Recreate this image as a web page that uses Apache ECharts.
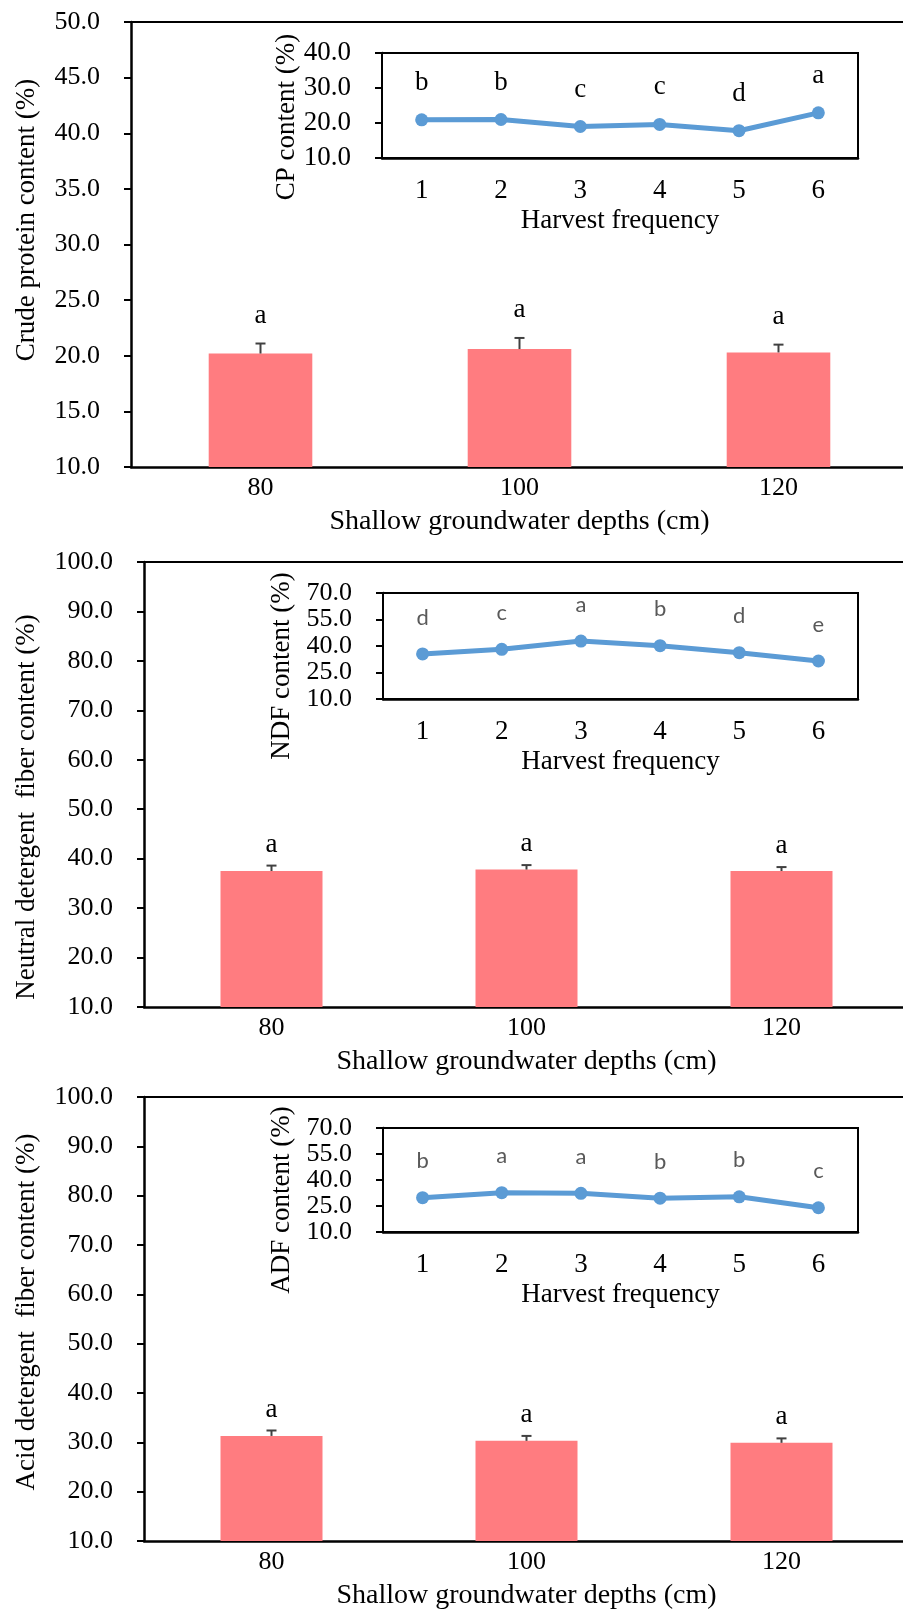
<!DOCTYPE html>
<html>
<head>
<meta charset="utf-8">
<title>CP / NDF / ADF content</title>
<script src="https://cdn.jsdelivr.net/npm/echarts@6/dist/echarts.min.js"></script>
<style>
    html, body { margin: 0; padding: 0; background: #fff; }
    #chart { width: 903px; height: 1612px; }
</style>
</head>
<body>
<div id="chart"></div>
<script>
// x categories
var depths = ['80', '100', '120'];
var harvest = ['1', '2', '3', '4', '5', '6'];

// crude protein
var cpMean = [20.2, 20.6, 20.3];
var cpErr = [0.9, 1.0, 0.7];
var cpSig = ['a', 'a', 'a'];
var cpHarvest = [20.9, 21.0, 19.0, 19.6, 17.8, 22.9];
var cpHarvestSig = ['b', 'b', 'c', 'c', 'd', 'a'];

// neutral detergent fiber
var ndfMean = [37.5, 37.8, 37.5];
var ndfErr = [1.1, 0.9, 0.8];
var ndfSig = ['a', 'a', 'a'];
var ndfHarvest = [35.5, 38.1, 42.8, 40.2, 36.2, 31.5];
var ndfHarvestSig = ['d', 'c', 'a', 'b', 'd', 'e'];

// acid detergent fiber
var adfMean = [31.3, 30.3, 29.9];
var adfErr = [1.1, 1.0, 0.9];
var adfSig = ['a', 'a', 'a'];
var adfHarvest = [29.8, 32.7, 32.3, 29.5, 30.3, 24.0];
var adfHarvestSig = ['b', 'a', 'a', 'b', 'b', 'c'];

(function () {
    'use strict';
    var serif = '"Liberation Serif", "Times New Roman", serif';
    var sans = 'Lato, "Liberation Sans", sans-serif';
    var black = '#000';

    var myChart = echarts.init(document.getElementById('chart'), null, {renderer: 'canvas'});

    // 误差线 + 显著性字母
    function makeErrRender(letters, lift) {
        return function (params, api) {
            var base = api.coord([api.value(0), api.value(1)]);
            var top = api.coord([api.value(0), api.value(1) + api.value(2)]);
            var half = 5;
            return {
                type: 'group',
                children: [
                    {type: 'line', shape: {x1: base[0], y1: base[1], x2: top[0], y2: top[1]},
                        style: {stroke: '#404040', lineWidth: 2}},
                    {type: 'line', shape: {x1: top[0] - half, y1: top[1], x2: top[0] + half, y2: top[1]},
                        style: {stroke: '#404040', lineWidth: 2}},
                    {type: 'text', x: top[0], y: top[1] - lift,
                        style: {text: letters[params.dataIndex], align: 'center', verticalAlign: 'middle',
                            font: '27px ' + serif, fill: black}}
                ]
            };
        };
    }

    function errData(means, errs) {
        var out = [];
        for (var i = 0; i < means.length; i++) {
            out.push([i, means[i], errs[i]]);
        }
        return out;
    }

    // 主图右边框在画面外, 所以主图不画边框, 上边框用顶部x轴代替
    var grids = [
        {left: 131, top: 22, width: 777, height: 445},
        {left: 382, top: 53, width: 476, height: 105},
        {left: 144, top: 562, width: 765, height: 445},
        {left: 383, top: 593, width: 475, height: 106},
        {left: 144, top: 1097, width: 765, height: 444},
        {left: 383, top: 1128, width: 475, height: 104}
    ];
    for (var g = 0; g < grids.length; g++) {
        var inset = g % 2 === 1;
        grids[g].show = inset;
        grids[g].borderColor = black;
        grids[g].borderWidth = 2;
        grids[g].backgroundColor = '#fff';
        grids[g].outerBoundsMode = 'none';
        grids[g].z = inset ? 5 : 0;
    }

    function mainX(idx) {
        return {
            type: 'category', gridIndex: idx, data: depths,
            name: 'Shallow groundwater depths (cm)', nameLocation: 'middle', nameGap: 41,
            nameTextStyle: {fontFamily: serif, fontSize: 28, color: black},
            axisLine: {lineStyle: {color: black, width: 2.5}},
            axisTick: {show: false},
            axisLabel: {fontFamily: serif, fontSize: 26, color: black, margin: 8}
        };
    }

    function topX(idx) {
        return {
            type: 'category', gridIndex: idx, data: depths, position: 'top',
            axisLine: {show: true, lineStyle: {color: black, width: 2}},
            axisTick: {show: false},
            axisLabel: {show: false}
        };
    }

    function insetX(idx) {
        return {
            type: 'category', gridIndex: idx, data: harvest,
            name: 'Harvest frequency', nameLocation: 'middle', nameGap: 49,
            nameTextStyle: {fontFamily: serif, fontSize: 27, color: black},
            axisLine: {lineStyle: {color: black, width: 2.5}},
            axisTick: {alignWithLabel: true, length: 7, lineStyle: {color: black, width: 2}},
            axisLabel: {fontFamily: serif, fontSize: 27, color: black, margin: 19}
        };
    }

    function yAxis(idx, min, max, step, size) {
        return {
            type: 'value', gridIndex: idx, min: min, max: max, interval: step,
            splitLine: {show: false},
            axisLine: {show: true, lineStyle: {color: black, width: 2.5}},
            axisTick: {show: true, length: 7, lineStyle: {color: black, width: 2}},
            axisLabel: {fontFamily: serif, fontSize: size, lineHeight: 18, color: black, margin: 31,
                showMinLabel: true, showMaxLabel: true, hideOverlap: false,
                formatter: function (v) { return v.toFixed(1); }}
        };
    }

    function barSeries(idx, data) {
        return {
            type: 'bar', xAxisIndex: idx, yAxisIndex: idx, data: data,
            barWidth: '40%', itemStyle: {color: '#FF7C80'}, z: 2
        };
    }

    function errSeries(idx, means, errs, letters, lift) {
        return {
            type: 'custom', xAxisIndex: idx, yAxisIndex: idx,
            data: errData(means, errs), renderItem: makeErrRender(letters, lift), z: 3
        };
    }

    function lineSeries(idx, data, letters, font, size, color, dist) {
        return {
            type: 'line', xAxisIndex: idx, yAxisIndex: idx, data: data,
            symbol: 'circle', symbolSize: 13, z: 6,
            lineStyle: {color: '#5B9BD5', width: 5},
            itemStyle: {color: '#5B9BD5'},
            label: {
                show: true, position: 'top', distance: dist,
                fontFamily: font, fontSize: size, color: color,
                formatter: function (p) { return letters[p.dataIndex]; }
            }
        };
    }

    // 竖向标题
    function vTitle(text, x, y) {
        return {
            type: 'text', x: x, y: y, rotation: Math.PI / 2, z: 10,
            style: {text: text, align: 'center', verticalAlign: 'middle',
                font: '27px ' + serif, fill: black}
        };
    }

    var option = {
        animation: false,
        backgroundColor: '#fff',
        grid: grids,
        xAxis: [mainX(0), insetX(1), mainX(2), insetX(3), mainX(4), insetX(5),
            topX(0), topX(2), topX(4)],
        yAxis: [
            yAxis(0, 10, 50, 5, 26),
            yAxis(1, 10, 40, 10, 27),
            yAxis(2, 10, 100, 10, 26),
            yAxis(3, 10, 70, 15, 26),
            yAxis(4, 10, 100, 10, 26),
            yAxis(5, 10, 70, 15, 26)
        ],
        graphic: [
            vTitle('Crude protein content (%)', 27, 220),
            vTitle('CP content (%)', 287, 117),
            vTitle('Neutral detergent  fiber content (%)', 27, 807),
            vTitle('NDF content (%)', 282, 666),
            vTitle('Acid detergent  fiber content (%)', 27, 1312),
            vTitle('ADF content (%)', 282, 1200)
        ],
        series: [
            barSeries(0, cpMean),
            errSeries(0, cpMean, cpErr, cpSig, 28),
            lineSeries(1, cpHarvest, cpHarvestSig, serif, 27, black, 17),
            barSeries(2, ndfMean),
            errSeries(2, ndfMean, ndfErr, ndfSig, 21),
            lineSeries(3, ndfHarvest, ndfHarvestSig, sans, 22, '#595959', 19),
            barSeries(4, adfMean),
            errSeries(4, adfMean, adfErr, adfSig, 21),
            lineSeries(5, adfHarvest, adfHarvestSig, sans, 22, '#595959', 19)
        ]
    };

    myChart.setOption(option);
})();
</script>
</body>
</html>
